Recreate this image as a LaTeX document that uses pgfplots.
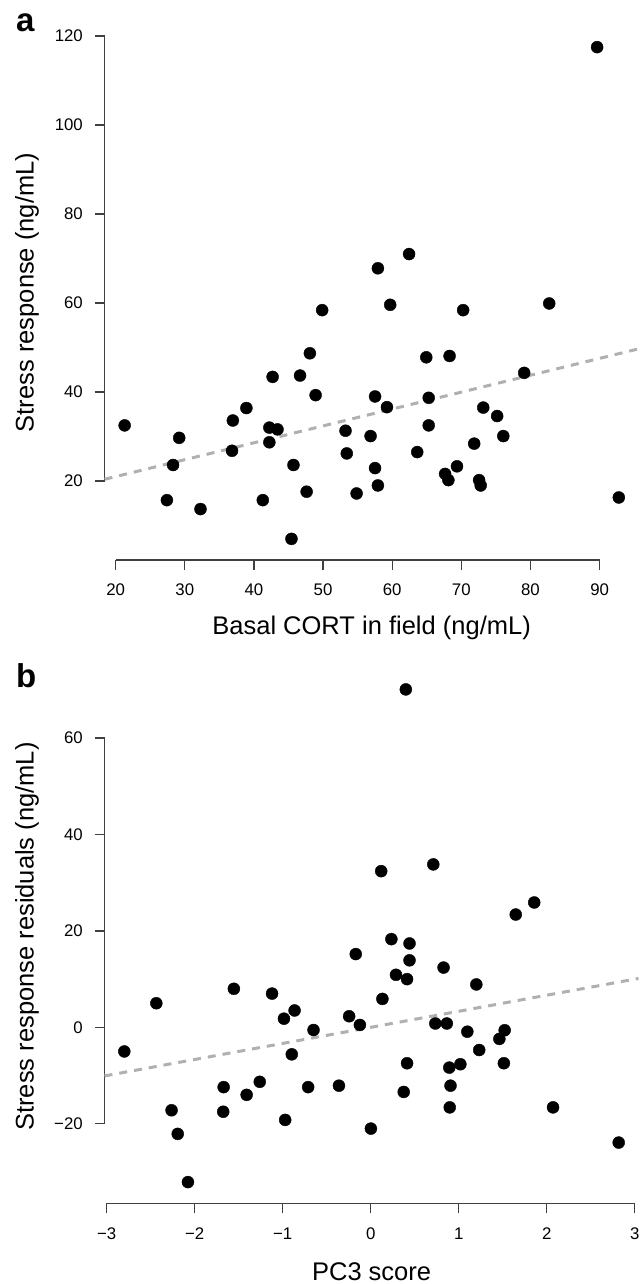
\documentclass[border=0pt]{standalone}
\usepackage{fontspec}
\setmainfont{Liberation Sans}
\usepackage{pgfplots}
\pgfplotsset{compat=1.18}

\definecolor{axisgray}{HTML}{404040}
\definecolor{fitgray}{HTML}{B0B0B0}

\pgfplotsset{
  rplot/.style={
    scale only axis, width=534pt, height=534pt,
    axis x line*=bottom, axis y line*=left,
    axis line style={draw=none},
    tick align=outside, major tick length=10pt,
    tick style={line width=1.4pt, axisgray},
    minor tick num=0,
    tick label style={font=\fontsize{16.8}{18}\selectfont, inner sep=0pt},
    yticklabel style={anchor=east, xshift=-11.6pt},
    xticklabel style={anchor=north, yshift=-14pt},
    /pgf/number format/assume math mode=true,
    clip=false,
  },
  pts/.style={only marks, mark=*, mark size=6pt, black},
  fit/.style={no marks, fitgray, line width=3pt, dash pattern=on 8pt off 7pt},
}

\begin{document}
\begin{tikzpicture}
\path[use as bounding box] (0,0) rectangle (643pt,-1284pt);

% panel a
\begin{axis}[rplot,
  at={(104.6pt,-560pt)}, anchor=south west,
  xmin=18.40, xmax=95.64, ymin=2.25, ymax=122.25,
  xtick={20,30,...,90}, ytick={20,40,...,120},
]
\draw[line width=1.4pt, axisgray] (axis cs:18.40,20) -- (axis cs:18.40,120);
\draw[line width=1.4pt, axisgray] (axis cs:20,2.25) -- (axis cs:90,2.25);
\addplot[fit] coordinates {(18.40,20.39) (95.64,49.70)};
\addplot[pts] coordinates {
(89.64,117.5) (57.93,67.8) (62.44,71.0) (49.87,58.4) (59.71,59.6)
(70.26,58.4) (82.71,59.9) (48.09,48.7) (64.93,47.8) (68.30,48.1)
(79.09,44.3) (42.70,43.4) (46.67,43.7) (48.92,39.3) (57.52,39.0)
(65.28,38.7) (59.24,36.6) (38.91,36.4) (73.17,36.5) (75.18,34.6)
(36.95,33.6) (21.30,32.5) (65.28,32.5) (42.23,32.0) (43.41,31.6)
(53.25,31.3) (56.87,30.1) (76.07,30.1) (29.19,29.7) (42.23,28.7)
(71.86,28.4) (36.83,26.8) (63.62,26.5) (53.43,26.2) (28.30,23.6)
(45.72,23.6) (69.37,23.3) (57.52,22.9) (67.65,21.6) (68.13,20.2)
(72.57,20.2) (72.80,19.0) (57.93,19.0) (47.62,17.6) (54.85,17.2)
(27.41,15.7) (41.28,15.7) (92.78,16.3) (32.27,13.7) (45.43,7.0)
};
\end{axis}

% panel b
\begin{axis}[rplot,
  at={(104.5pt,-1203.3pt)}, anchor=south west,
  xmin=-3.025, xmax=3.043, ymin=-36.5, ymax=74.27,
  xtick={-3,-2,-1,0,1,2,3}, xticklabels={−3,−2,−1,0,1,2,3},
  ytick={-20,0,20,40,60}, yticklabels={−20,0,20,40,60},
]
\draw[line width=1.4pt, axisgray] (axis cs:-3.025,-20) -- (axis cs:-3.025,60);
\draw[line width=1.4pt, axisgray] (axis cs:-3,-36.5) -- (axis cs:3,-36.5);
\addplot[fit] coordinates {(-3.025,-10.08) (3.043,10.14)};
\addplot[pts] coordinates {
(0.399,70.1) (0.119,32.4) (0.711,33.8) (1.858,25.9) (1.648,23.4)
(0.235,18.3) (0.441,17.4) (-0.170,15.2) (0.441,13.9) (0.828,12.4)
(0.287,10.9) (0.413,10.0) (1.200,8.9) (-1.555,8.0) (-1.121,7.0)
(0.133,5.9) (-2.436,5.0) (-0.865,3.5) (-0.986,1.8) (-0.245,2.3)
(-0.123,0.5) (0.734,0.8) (0.865,0.8) (-0.650,-0.55) (1.098,-0.9)
(1.522,-0.6) (1.462,-2.4) (1.233,-4.7) (-2.800,-5.0) (-0.897,-5.6)
(0.413,-7.45) (1.513,-7.45) (1.019,-7.65) (0.893,-8.35) (-1.261,-11.3)
(-1.671,-12.4) (-0.711,-12.4) (-0.361,-12.1) (0.907,-12.1) (-1.410,-14.0)
(0.375,-13.4) (-2.263,-17.2) (-1.676,-17.5) (0.898,-16.6) (2.072,-16.6)
(-0.972,-19.2) (0.002,-21.0) (-2.193,-22.1) (2.818,-23.9) (-2.077,-32.1)
};
\end{axis}

% labels
\node[anchor=base west, inner sep=0pt, font=\fontsize{33}{36}\selectfont\bfseries] at (16pt,-32pt) {a};
\node[anchor=base west, inner sep=0pt, font=\fontsize{33}{36}\selectfont\bfseries] at (16pt,-687pt) {b};
\node[rotate=90, anchor=south, inner sep=0pt, font=\fontsize{25.5}{28}\selectfont] at (39pt,-292.5pt) {Stress response (ng/mL)};
\node[rotate=90, anchor=south, inner sep=0pt, font=\fontsize{25.5}{28}\selectfont] at (39pt,-936.5pt) {Stress response residuals (ng/mL)};
\node[anchor=base, inner sep=0pt, font=\fontsize{25.5}{28}\selectfont] at (371.6pt,-634pt) {Basal CORT in field (ng/mL)};
\node[anchor=base, inner sep=0pt, font=\fontsize{25.5}{28}\selectfont] at (371.6pt,-1280pt) {PC3 score};
\end{tikzpicture}
\end{document}
